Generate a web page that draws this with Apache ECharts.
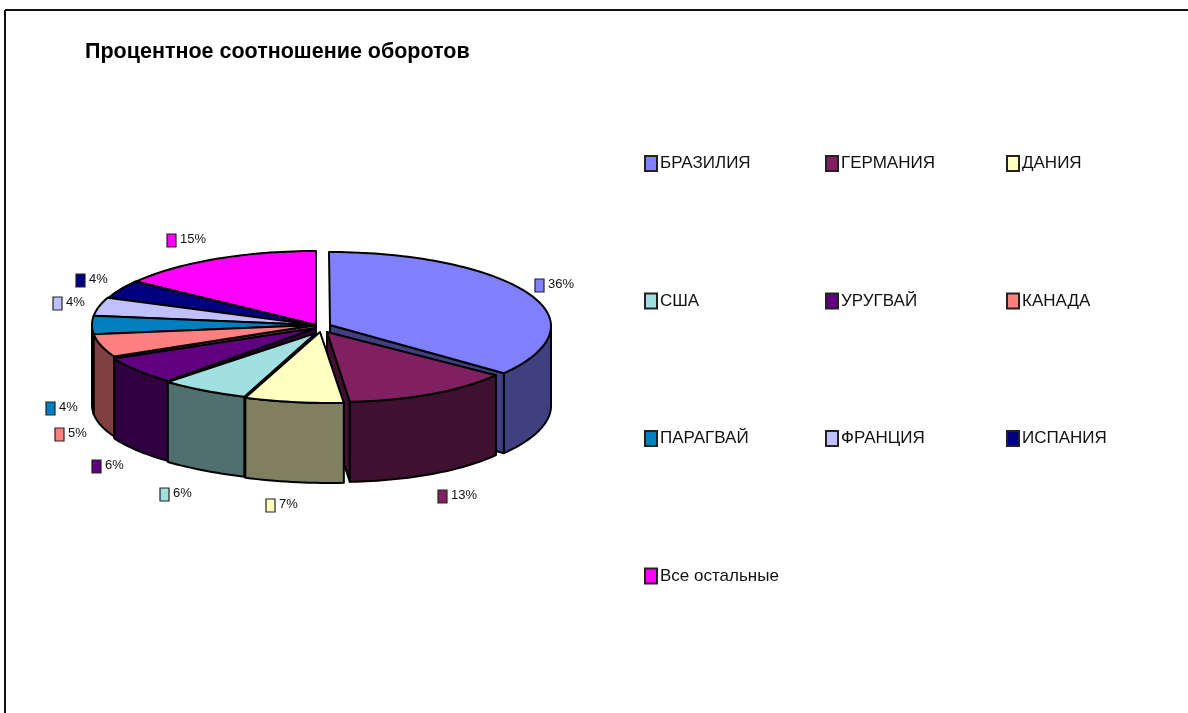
<!DOCTYPE html>
<html><head><meta charset="utf-8">
<style>html,body{margin:0;padding:0;background:#fff}#c{width:1188px;height:713px}</style>
<script src="https://cdn.jsdelivr.net/npm/echarts@6/dist/echarts.min.js"></script>
</head><body><div id="c"></div>
<script>
// Data
const titleText = 'Процентное соотношение оборотов';
const categories = ['БРАЗИЛИЯ','ГЕРМАНИЯ','ДАНИЯ','США','УРУГВАЙ','КАНАДА','ПАРАГВАЙ','ФРАНЦИЯ','ИСПАНИЯ','Все остальные'];
const shares = [36,13,7,6,6,5,4,4,4,15];
// Styles
const topColors  = ['#8080FF','#802060','#FFFFC0','#A0E0E0','#600080','#FF8080','#0080C0','#C0C0FF','#000080','#FF00FF'];
const wallColors = ['#404080','#401030','#808060','#507070','#300040','#804040','#004060','#606080','#000040','#800080'];
// Layout
const CX = 314, CY = 325, RX = 222, RY = 74, DEPTH = 80, WARP = 15;
const apexOffsets = [[16,0],[13,7],[6,7],[2,8],[2,3],[2,0],[2,0],[2,0],[2,0],[2,0]];
const rimOffsets  = [[15,1],[7,3],[1,4],[0,3],[0,2],[0,0],[0,0],[0,0],[1,0],[2,0]];
const labelAnchors = [[535,279],[438,490],[266,499],[160,488],[92,460],[55,428],[46,402],[53,297],[76,274],[167,234]];
const drawOrder = [0,9,8,7,6,5,4,3,1,2];
const legendCols = [[0,3,6,9],[1,4,7],[2,5,8]];
const legendLefts = [644,825,1006];

const total = shares.reduce((a,b)=>a+b,0);
const starts = []; shares.reduce((acc,v,i)=>{starts[i]=acc;return acc+v;},0);
const rad = d => d*Math.PI/180;
function rim(i, deg){
  const t = rad(deg), s = Math.sin(t), c = Math.cos(t);
  const warp = c < 0 ? WARP*Math.pow(-c,3) : 0;
  return [CX + rimOffsets[i][0] + RX*s + warp, CY + rimOffsets[i][1] - RY*c];
}
function arc(i, a, b){
  const n = Math.max(2, Math.ceil(Math.abs(b-a)/1.5)), pts=[];
  for(let k=0;k<=n;k++) pts.push(rim(i, a+(b-a)*k/n));
  return pts;
}
const down = p => [p[0], p[1]+DEPTH];
const strokeStyle = fill => ({fill, stroke:'#000', lineWidth:2, lineJoin:'round'});

function renderSlice(idx){
  return function(params, api){
    const value = api.value(0);
    const a0 = starts[idx]/total*360, a1 = (starts[idx]+value)/total*360;
    const apex = [CX+apexOffsets[idx][0], CY+apexOffsets[idx][1]];
    const top = arc(idx,a0,a1), children = [];
    const face = (deg) => {
      const p = rim(idx,deg);
      children.push({type:'polygon',shape:{points:[apex,p,down(p),down(apex)]},style:strokeStyle(wallColors[idx])});
    };
    if (a0 > 180) face(a0);
    if (a1 < 180) face(a1);
    const w0 = Math.max(a0,90), w1 = Math.min(a1,270);
    if (w1 > w0) {
      const w = arc(idx,w0,w1);
      children.push({type:'polygon',shape:{points:w.concat(w.map(down).reverse())},style:strokeStyle(wallColors[idx])});
    }
    children.push({type:'polygon',shape:{points:[apex].concat(top)},style:strokeStyle(topColors[idx])});
    const la = labelAnchors[idx];
    children.push({type:'rect',shape:{x:la[0],y:la[1],width:9,height:13},style:{fill:topColors[idx],stroke:'#222',lineWidth:1.2}});
    children.push({type:'text',x:la[0]+13,y:la[1]-1,style:{text:value+'%',fill:'#111',font:'13px "Liberation Sans"',textVerticalAlign:'top'}});
    return {type:'group',children};
  };
}

const series = categories.map((name,i)=>({
  name, type:'custom', coordinateSystem:'none', silent:true, animation:false,
  z: 2 + drawOrder.indexOf(i),
  itemStyle:{color:topColors[i],borderColor:'#222',borderWidth:1.5},
  data:[[shares[i]]],
  renderItem: renderSlice(i)
}));

const legend = legendCols.map((col,k)=>({
  orient:'vertical', left:legendLefts[k], top:155, padding:0,
  itemWidth:12, itemHeight:15, itemGap:120.5, icon:'rect', selectedMode:false,
  textStyle:{fontFamily:'Liberation Sans',fontSize:17,color:'#111',padding:[0,0,3,-2]},
  data: col.map(i=>categories[i])
}));

const chart = echarts.init(document.getElementById('c'),null,{renderer:'canvas'});
chart.setOption({
  backgroundColor:'#fff', animation:false,
  title:{text:titleText,left:85,top:41,padding:0,textStyle:{fontFamily:'Liberation Sans',fontWeight:'bold',fontSize:21.5,color:'#000'}},
  legend, series,
  graphic:[
    {type:'line',silent:true,shape:{x1:5,y1:10,x2:1188,y2:10},style:{stroke:'#111',lineWidth:2}},
    {type:'line',silent:true,shape:{x1:5,y1:10,x2:5,y2:713},style:{stroke:'#111',lineWidth:2}}
  ]
});
</script></body></html>
